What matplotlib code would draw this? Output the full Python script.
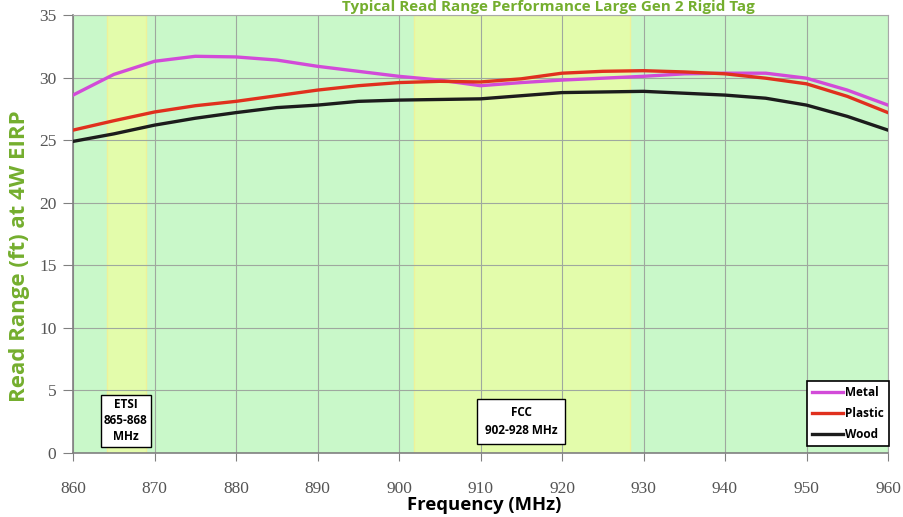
import matplotlib
matplotlib.use('Agg')
import matplotlib.pyplot as plt

# === Data ===
freq = [860, 865, 870, 875, 880, 885, 890, 895, 900, 905, 910,
        915, 920, 925, 930, 935, 940, 945, 950, 955, 960]
metal = [28.6, 30.25, 31.3, 31.7, 31.65, 31.4, 30.9, 30.5, 30.1, 29.8, 29.35,
         29.6, 29.8, 29.95, 30.1, 30.3, 30.35, 30.35, 29.95, 29.0, 27.8]
plastic = [25.8, 26.55, 27.25, 27.75, 28.1, 28.55, 29.0, 29.35, 29.6, 29.7, 29.65,
           29.9, 30.35, 30.5, 30.55, 30.45, 30.3, 29.95, 29.5, 28.5, 27.2]
wood = [24.9, 25.5, 26.2, 26.75, 27.2, 27.6, 27.8, 28.1, 28.2, 28.25, 28.3,
        28.55, 28.8, 28.85, 28.9, 28.75, 28.6, 28.35, 27.8, 26.9, 25.8]

etsi_band = (864.2, 869.0)
fcc_band = (901.8, 928.4)
x_ticks = list(range(860, 961, 10))
y_ticks = list(range(0, 36, 5))

GREEN = '#74ae2e'
BG = '#c9f8c9'
YELLOW = '#e3fcab'

fig = plt.figure(figsize=(9.04, 5.17), dpi=100)
ax = fig.add_axes([73 / 904, 1 - 453 / 517, 815 / 904, 438 / 517])
ax.set_facecolor(BG)

ax.axvspan(*etsi_band, facecolor=YELLOW, edgecolor='#eef29a', linewidth=1.0, zorder=0.5)
ax.axvspan(*fcc_band, facecolor=YELLOW, edgecolor='#eef29a', linewidth=1.0, zorder=0.5)

ax.set_xlim(860, 960)
ax.set_ylim(0, 35)
ax.set_xticks(x_ticks)
ax.set_yticks(y_ticks)
ax.grid(True, color='#9fa89f', linewidth=0.8)
ax.set_axisbelow(True)

ax.plot(freq, metal, color='#d24bd8', linewidth=2.4, label='Metal', zorder=3)
ax.plot(freq, plastic, color='#e0301e', linewidth=2.4, label='Plastic', zorder=3)
ax.plot(freq, wood, color='#1c1c1c', linewidth=2.4, label='Wood', zorder=3)

for side in ['top', 'right']:
    ax.spines[side].set_color('#a8a8a8')
for side in ['left', 'bottom']:
    ax.spines[side].set_color('#808080')
    ax.spines[side].set_linewidth(1.2)

ax.tick_params(axis='x', length=6, color='#808080', pad=14,
               labelsize=12.5, labelcolor='#555555')
ax.tick_params(axis='y', length=7, color='#808080', pad=5,
               labelsize=12.5, labelcolor='#555555')
for lab in ax.get_xticklabels() + ax.get_yticklabels():
    lab.set_fontfamily('Liberation Serif')

ax.text(866.5, 2.56, 'ETSI\n865-868\nMHz', ha='center', va='center', fontsize=8.5,
        fontweight='bold', family='Open Sans', linespacing=1.3,
        bbox=dict(boxstyle='square,pad=0.3', facecolor='white', edgecolor='black',
                  linewidth=1.0), zorder=4)
ax.text(915.0, 2.52, 'FCC\n902-928 MHz', ha='center', va='center', fontsize=8.5,
        fontweight='bold', family='Open Sans', linespacing=1.45,
        bbox=dict(boxstyle='square,pad=0.65', facecolor='white', edgecolor='black',
                  linewidth=1.0), zorder=4)

leg = ax.legend(loc='lower right', bbox_to_anchor=(1.001, 0.016), borderaxespad=0,
                fancybox=False, framealpha=1, edgecolor='black', borderpad=0.45,
                labelspacing=0.65, handlelength=2.6, handletextpad=0.15,
                prop={'family': 'Open Sans', 'weight': 'bold', 'size': 8.5})
leg.get_frame().set_linewidth(1.2)
leg.set_zorder(5)

fig.text(20 / 904, 1 - 256 / 517, 'Read Range (ft) at 4W EIRP', rotation=90,
         ha='center', va='center', color=GREEN, fontsize=16,
         fontweight='bold', family='Open Sans')
fig.text(484 / 904, 1 - 505 / 517, 'Frequency (MHz)', ha='center', va='center',
         fontsize=13.3, fontweight='bold', family='Open Sans')
fig.text(548 / 904, 1 - 11.5 / 517, 'Typical Read Range Performance Large Gen 2 Rigid Tag',
         ha='center', va='baseline', color=GREEN, fontsize=11,
         fontweight='bold', family='Open Sans')

fig.savefig('out.png', dpi=100)
